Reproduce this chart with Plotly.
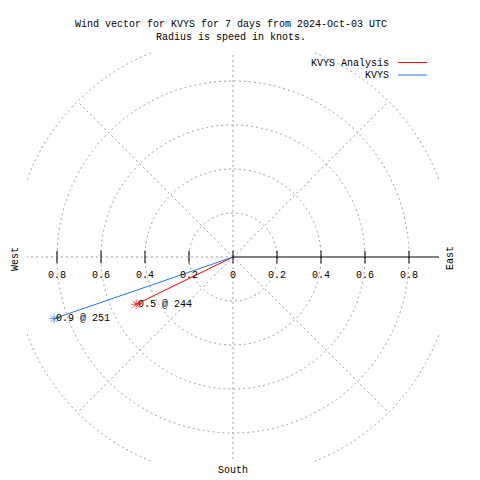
import math
import plotly.graph_objects as go

# ---- data ----
series_names = ["KVYS Analysis", "KVYS"]
speeds_kt = [0.49, 0.86]          # radius = speed in knots
directions_deg = [244, 251]       # compass direction (deg)
series_colors = ["#ff0000", "#1e78e6"]

tick_vals = [-0.8, -0.6, -0.4, -0.2, 0, 0.2, 0.4, 0.6, 0.8]
tick_text = ["0.8", "0.6", "0.4", "0.2", "0", "0.2", "0.4", "0.6", "0.8"]
ring_radii = [0.2, 0.4, 0.6, 0.8, 1.0]
spoke_angles = [45, 90, 135, 180, 225, 270, 315]

title_text = "Wind vector for KVYS for 7 days from 2024-Oct-03 UTC<br>Radius is speed in knots."

# ---- layout geometry (pixels) ----
W = H = 480
L, R, T, B = 27, 41, 52, 18
SCALE = 220.0
XR = (W - L - R) / 2 / SCALE
YR = (H - T - B) / 2 / SCALE
FONT = "Liberation Mono, DejaVu Sans Mono, monospace"
GRID = "#a0a0a0"

def px_to_paper(px, py):
    return (px - L) / (W - L - R), (H - B - py) / (H - T - B)

fig = go.Figure()

# wind vectors
annotations = []
for name, spd, d, col in zip(series_names, speeds_kt, directions_deg, series_colors):
    x = spd * math.sin(math.radians(d))
    y = spd * math.cos(math.radians(d))
    fig.add_trace(go.Scatter(
        x=[0, x], y=[0, y], mode="lines+markers", name=name,
        line=dict(color=col, width=1),
        marker=dict(symbol="asterisk-open", size=[0, 8], color=col,
                    line=dict(color=col, width=1)),
        showlegend=False, hoverinfo="skip"))
    annotations.append(dict(x=x, y=y, xref="x", yref="y", text=f"{spd:.1f} @ {d}",
                            showarrow=False, xanchor="left", yanchor="middle",
                            xshift=0, font=dict(family=FONT, size=10, color="black")))

# tick marks crossing the axis
fig.add_trace(go.Scatter(
    x=tick_vals, y=[0] * len(tick_vals), mode="markers",
    marker=dict(symbol="line-ns-open", size=9, color="black",
                line=dict(color="black", width=1)),
    showlegend=False, hoverinfo="skip"))

shapes = []
for r in ring_radii:
    shapes.append(dict(type="circle", xref="x", yref="y", x0=-r, x1=r, y0=-r, y1=r,
                       line=dict(color=GRID, width=1, dash="2px,3px"), layer="below"))
for a in spoke_angles:
    shapes.append(dict(type="line", xref="x", yref="y", x0=0, y0=0,
                       x1=math.cos(math.radians(a)), y1=math.sin(math.radians(a)),
                       line=dict(color=GRID, width=1, dash="2px,3px"), layer="below"))
shapes.append(dict(type="line", xref="x", yref="y", x0=0, y0=0, x1=XR, y1=0,
                   line=dict(color="black", width=1), layer="above"))

# legend (text right-aligned, sample line to the right)
for i, (name, col) in enumerate(zip(series_names, series_colors)):
    py = 63 + 12.5 * i
    tx, ty = px_to_paper(391, py)
    annotations.append(dict(x=tx, y=ty, xref="paper", yref="paper", text=name,
                            showarrow=False, xanchor="right", yanchor="middle",
                            font=dict(family=FONT, size=10, color="black")))
    lx0, ly = px_to_paper(398, py - 0.5)
    lx1, _ = px_to_paper(427, py)
    shapes.append(dict(type="line", xref="paper", yref="paper", x0=lx0, x1=lx1,
                       y0=ly, y1=ly, line=dict(color=col, width=1)))

# compass labels
for txt, px, py, ang in [("West", 15, 259, -90), ("East", 450, 258, -90), ("South", 233, 470, 0)]:
    ax, ay = px_to_paper(px, py)
    annotations.append(dict(x=ax, y=ay, xref="paper", yref="paper", text=txt,
                            showarrow=False, textangle=ang, xanchor="center", yanchor="middle",
                            font=dict(family=FONT, size=10, color="black")))

fig.update_layout(
    width=W, height=H, margin=dict(l=L, r=R, t=T, b=B, pad=0),
    paper_bgcolor="white", plot_bgcolor="white",
    title=dict(text=title_text, x=231 / W, xanchor="center", xref="container",
               y=1 - 27 / H, yanchor="middle",
               font=dict(family=FONT, size=10, color="black")),
    xaxis=dict(range=[-XR, XR], showgrid=False, zeroline=False, showline=False,
               tickvals=tick_vals, ticktext=tick_text, ticks="",
               anchor="free", position=0.5, ticklabelstandoff=10,
               tickfont=dict(family=FONT, size=10, color="black"), fixedrange=True),
    yaxis=dict(range=[-YR, YR], showgrid=False, zeroline=False, showline=False,
               showticklabels=False, ticks="", fixedrange=True),
    shapes=shapes, annotations=annotations, showlegend=False,
)

fig.write_html("out.html", config={"displayModeBar": False},
               post_script="document.body.style.margin='0';document.body.style.padding='0';")
